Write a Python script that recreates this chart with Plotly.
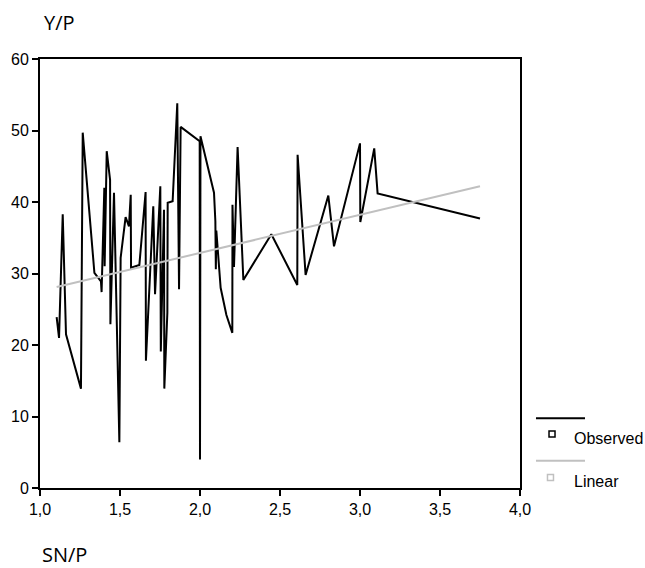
import plotly.graph_objects as go

# Observed series (SN/P, Y/P)
sn_p = [1.104, 1.119, 1.142, 1.1625, 1.256, 1.267, 1.340, 1.381, 1.385, 1.402,
        1.404, 1.417, 1.438, 1.440, 1.4625, 1.496, 1.504, 1.535, 1.556, 1.567,
        1.569, 1.621, 1.660, 1.662, 1.708, 1.719, 1.752, 1.755, 1.775, 1.777,
        1.796, 1.798, 1.829, 1.858, 1.869, 1.879, 1.998, 2.000, 2.003, 2.0875,
        2.096, 2.099, 2.102, 2.129, 2.165, 2.202, 2.203, 2.2125, 2.235, 2.271,
        2.446, 2.608, 2.610, 2.660, 2.802, 2.8375, 3.000, 3.002, 3.089, 3.110,
        3.750]
y_p = [23.9, 21.0, 38.3, 21.5, 13.9, 49.7, 30.1, 28.9, 27.4, 42.0,
       31.0, 47.1, 43.1, 22.9, 41.3, 6.4, 32.2, 37.9, 36.6, 41.0,
       30.8, 31.2, 41.4, 17.8, 39.4, 27.1, 42.2, 19.1, 38.9, 13.9,
       24.5, 39.9, 40.1, 53.8, 27.8, 50.5, 48.5, 4.0, 49.2, 41.3,
       37.3, 30.6, 36.0, 28.0, 24.2, 21.7, 39.6, 30.9, 47.7, 29.1,
       35.5, 28.4, 46.6, 29.8, 40.9, 33.8, 48.2, 37.2, 47.5, 41.2,
       37.7]

# Linear fit line endpoints
linear_x = [1.104, 3.750]
linear_y = [28.1, 42.2]

x_ticks = [1.0, 1.5, 2.0, 2.5, 3.0, 3.5, 4.0]
x_ticklabels = ["1,0", "1,5", "2,0", "2,5", "3,0", "3,5", "4,0"]
y_ticks = [0, 10, 20, 30, 40, 50, 60]

series_names = ["Observed", "Linear"]
obs_color = "#000000"
lin_color = "#c0c0c0"

fig = go.Figure()
fig.add_trace(go.Scatter(x=sn_p, y=y_p, mode="lines", name=series_names[0],
                         line=dict(color=obs_color, width=2), showlegend=False))
fig.add_trace(go.Scatter(x=linear_x, y=linear_y, mode="lines", name=series_names[1],
                         line=dict(color=lin_color, width=2), showlegend=False))

axis_font = dict(family="Liberation Sans, Arial, sans-serif", size=16, color="#000")
fig.update_layout(
    width=645, height=568,
    margin=dict(l=40, r=125, t=59, b=80),
    plot_bgcolor="white", paper_bgcolor="white",
    showlegend=False,
    xaxis=dict(range=[1, 4], tickvals=x_ticks, ticktext=x_ticklabels,
               showgrid=False, zeroline=False, showline=True, linecolor="#000",
               linewidth=2, mirror=True, ticks="outside", ticklen=6,
               tickcolor="#000", tickwidth=1.5, tickfont=axis_font),
    yaxis=dict(range=[0, 60], tickvals=y_ticks,
               showgrid=False, zeroline=False, showline=True, linecolor="#000",
               linewidth=2, mirror=True, ticks="outside", ticklen=6,
               tickcolor="#000", tickwidth=1.5, tickfont=axis_font),
)

title_font = dict(family="Open Sans, Noto Sans, sans-serif", size=20, color="#000")
fig.add_annotation(text="Y/P", xref="paper", yref="paper", x=0.004, y=1.084,
                   xanchor="left", yanchor="middle", showarrow=False, font=title_font)
fig.add_annotation(text="SN/P", xref="paper", yref="paper", x=0.0, y=-0.156,
                   xanchor="left", yanchor="middle", showarrow=False, font=title_font)

# Custom legend
leg = [(series_names[0], obs_color, 0.1625, 1.0667, 0.1259, 0.1159),
       (series_names[1], lin_color, 0.0636, 1.0635, 0.0245, 0.0147)]
for name, col, ly, sx, sy, ty in leg:
    fig.add_shape(type="line", xref="paper", yref="paper", x0=1.0333, x1=1.1354,
                  y0=ly, y1=ly, line=dict(color=col, width=2))
    fig.add_shape(type="rect", xref="paper", yref="paper",
                  xsizemode="pixel", ysizemode="pixel", xanchor=sx, yanchor=sy,
                  x0=-3, x1=3, y0=-3, y1=3, fillcolor="white",
                  line=dict(color=col, width=1.5))
    fig.add_annotation(text=name, xref="paper", yref="paper", x=1.1077, y=ty,
                       xanchor="left", yanchor="middle", showarrow=False,
                       font=dict(family="Liberation Sans, Arial, sans-serif",
                                 size=16, color="#000"))

fig.write_html("out.html", config={"displayModeBar": False},
               post_script="document.body.style.margin='0';document.body.style.padding='0';")
